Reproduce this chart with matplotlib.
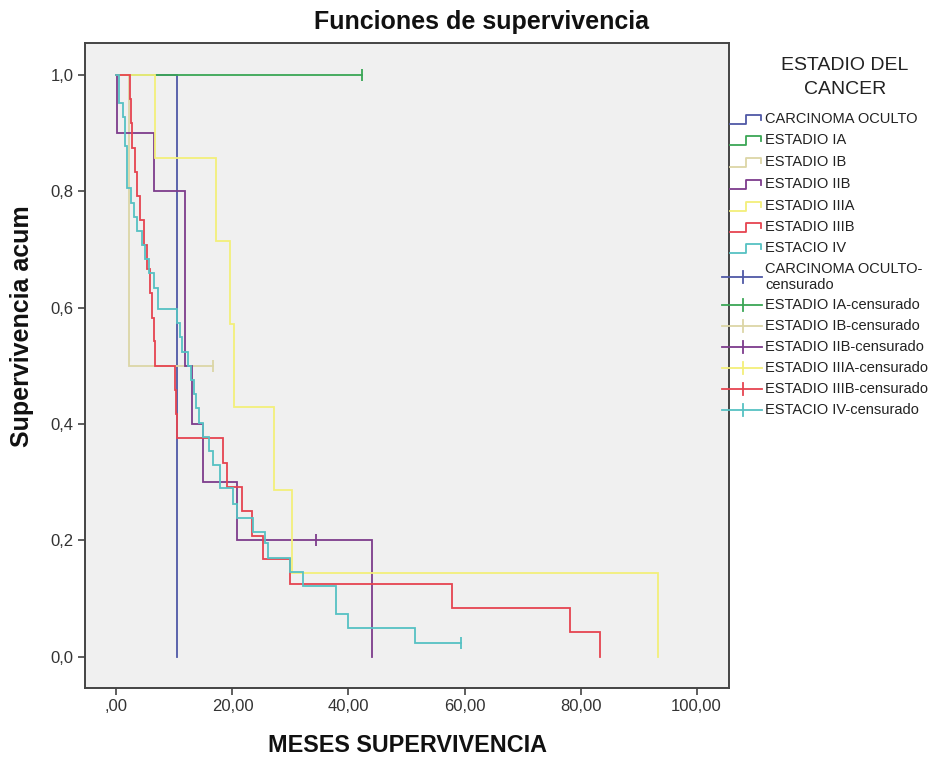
import matplotlib
matplotlib.use("Agg")
import matplotlib.pyplot as plt
from matplotlib.lines import Line2D

plt.rcParams['font.family'] = ['Liberation Sans', 'DejaVu Sans']

# ---- data ----
groups = ["CARCINOMA OCULTO", "ESTADIO IA", "ESTADIO IB", "ESTADIO IIB",
          "ESTADIO IIIA", "ESTADIO IIIB", "ESTACIO IV"]
colors = ["#4f58a6", "#3aa655", "#dcd6a6", "#7d3c8c", "#f3ef7a", "#e64450", "#56c1c3"]

oculto_t = [0, 10.4]
oculto_s = [1.0, 0.0]
oculto_cens_t, oculto_cens_s = [], []

ia_t = [0, 42.3]
ia_s = [1.0, 1.0]
ia_cens_t, ia_cens_s = [42.3], [1.0]

ib_t = [0, 2.2, 16.7]
ib_s = [1.0, 0.5, 0.5]
ib_cens_t, ib_cens_s = [16.7], [0.5]

iib_t = [0, 0.1, 6.5, 11.8, 13.0, 14.9, 20.8, 44.1]
iib_s = [1.0, 0.9, 0.8, 0.5, 0.4, 0.3, 0.2, 0.0]
iib_cens_t, iib_cens_s = [34.4], [0.2]

iiia_t = [0, 6.7, 17.1, 19.6, 20.3, 27.2, 30.2, 93.4]
iiia_s = [1.0, 0.857, 0.714, 0.571, 0.429, 0.286, 0.143, 0.0]
iiia_cens_t, iiia_cens_s = [], []

iiib_t = [0, 2.3, 2.5, 2.7, 3.25, 3.5, 4.0, 4.8, 5.2, 5.8, 6.1, 6.5, 6.6,
          10.1, 10.25, 10.4, 18.4, 19.0, 21.6, 23.3, 25.2, 29.9, 57.8, 78.2, 83.3]
iiib_s = [1.0, 0.958, 0.917, 0.875, 0.833, 0.792, 0.75, 0.708, 0.667, 0.625, 0.583,
          0.542, 0.5, 0.458, 0.417, 0.375, 0.333, 0.292, 0.25, 0.208, 0.167, 0.125,
          0.083, 0.042, 0.0]
iiib_cens_t, iiib_cens_s = [], []

iv_t = [0, 0.4, 1.1, 1.5, 1.9, 2.5, 3.0, 3.5, 4.4, 5.0, 5.7, 6.4, 7.1, 10.5, 10.9,
        11.3, 12.3, 12.9, 13.3, 13.7, 14.2, 15.0, 15.9, 16.7, 17.9, 20.1, 20.7,
        23.6, 25.6, 26.2, 29.9, 32.1, 37.9, 39.9, 51.4, 59.4]
iv_s = [1.0, 0.951, 0.927, 0.878, 0.805, 0.780, 0.756, 0.732, 0.707, 0.683, 0.659,
        0.634, 0.598, 0.573, 0.549, 0.524, 0.50, 0.476, 0.451, 0.427, 0.402, 0.378,
        0.353, 0.329, 0.29, 0.262, 0.238, 0.215, 0.195, 0.17, 0.146, 0.122, 0.073,
        0.049, 0.024, 0.024]
iv_cens_t, iv_cens_s = [59.4], [0.024]

curves_t = [oculto_t, ia_t, ib_t, iib_t, iiia_t, iiib_t, iv_t]
curves_s = [oculto_s, ia_s, ib_s, iib_s, iiia_s, iiib_s, iv_s]
cens_t = [oculto_cens_t, ia_cens_t, ib_cens_t, iib_cens_t, iiia_cens_t, iiib_cens_t, iv_cens_t]
cens_s = [oculto_cens_s, ia_cens_s, ib_cens_s, iib_cens_s, iiia_cens_s, iiib_cens_s, iv_cens_s]

x_ticks = [0, 20, 40, 60, 80, 100]
x_ticklabels = [",00", "20,00", "40,00", "60,00", "80,00", "100,00"]
y_ticks = [0.0, 0.2, 0.4, 0.6, 0.8, 1.0]
y_ticklabels = ["0,0", "0,2", "0,4", "0,6", "0,8", "1,0"]

W, H = 952, 758
fig = plt.figure(figsize=(W / 100, H / 100), dpi=100)
ax = fig.add_axes([84.5 / W, 1 - 688 / H, (728.5 - 84.5) / W, (688 - 43) / H])
ax.set_facecolor("#f0f0f0")

for t, s, ct, cs, c in zip(curves_t, curves_s, cens_t, cens_s, colors):
    ax.step(t, s, where="post", color=c, lw=1.3, solid_joinstyle="miter")
    if ct:
        ax.plot(ct, cs, linestyle="none", marker="|", markersize=9, mew=1.3, color=c)

ax.set_xlim(-5.5, 105.5)
ax.set_ylim(-0.054, 1.055)
ax.set_xticks(x_ticks)
ax.set_xticklabels(x_ticklabels)
ax.set_yticks(y_ticks)
ax.set_yticklabels(y_ticklabels)
ax.tick_params(axis="both", direction="out", length=5, width=1.1, color="#333333",
               labelsize=12, labelcolor="#333333", pad=3)
for sp in ax.spines.values():
    sp.set_color("#444444")
    sp.set_linewidth(1.4)

fig.text(481.7 / W, 1 - 22 / H, "Funciones de supervivencia", ha="center", va="center",
         fontsize=18, fontweight="bold", color="#111111")
fig.text(407 / W, 1 - 746 / H, "MESES SUPERVIVENCIA", ha="center", va="center",
         fontsize=16.8, fontweight="bold", color="#111111")
fig.text(22 / W, 1 - 326 / H, "Supervivencia acum", ha="center", va="center",
         rotation=90, fontsize=18, fontweight="bold", color="#111111")

# ---- legend (drawn manually in pixel coordinates) ----
fig.text(845 / W, 1 - 66 / H, "ESTADIO DEL", ha="center", va="center", fontsize=14, color="#222222")
fig.text(845 / W, 1 - 89 / H, "CANCER", ha="center", va="center", fontsize=14, color="#222222")

step_rows = [119, 140, 162, 184, 205.5, 227, 248]
cens_rows = [277, 305, 326, 347, 368, 389, 410]
cens_labels = [g + "-censurado" for g in groups]
cens_labels[0] = "CARCINOMA OCULTO-\ncensurado"


def px(x, y):
    return x / W, 1 - y / H


for y, lab, c in zip(step_rows, groups, colors):
    xs = [730, 746, 746, 761, 761]
    ys = [y + 5, y + 5, y - 4, y - 4, y + 1]
    fig.add_artist(Line2D([v / W for v in xs], [1 - v / H for v in ys], color=c, lw=1.3,
                          transform=fig.transFigure))
    fig.text(*px(765, y), lab, ha="left", va="center", fontsize=10.5, color="#222222")

for y, lab, c in zip(cens_rows, cens_labels, colors):
    fig.add_artist(Line2D([722 / W, 762 / W], [1 - y / H, 1 - y / H], color=c, lw=1.3,
                          transform=fig.transFigure))
    fig.add_artist(Line2D([743 / W, 743 / W], [1 - (y - 6) / H, 1 - (y + 6) / H], color=c,
                          lw=1.3, transform=fig.transFigure))
    fig.text(*px(765, y), lab, ha="left", va="center", fontsize=10.5, color="#222222",
             linespacing=1.1)

fig.savefig("out.png", dpi=100)
